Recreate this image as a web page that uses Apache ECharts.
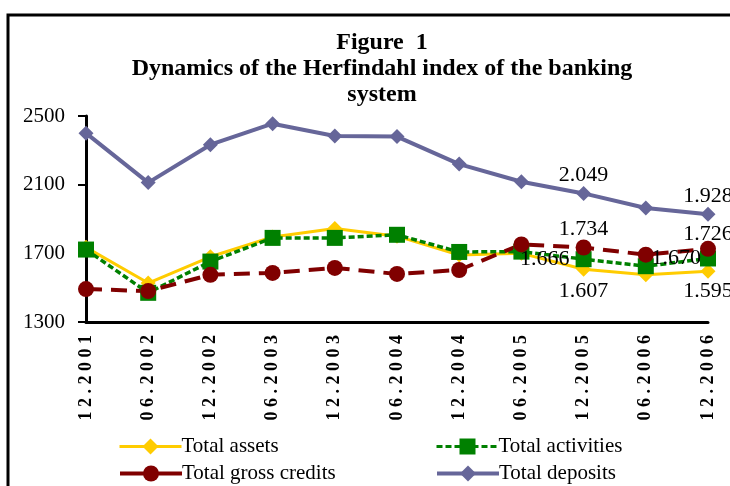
<!DOCTYPE html>
<html lang="en">
<head>
<meta charset="UTF-8">
<script src="https://cdn.jsdelivr.net/npm/echarts@6/dist/echarts.min.js"></script>
<style>
  html, body { margin: 0; padding: 0; background: #fff; }
  #chart { width: 730px; height: 486px; }
</style>
</head>
<body>
<div id="chart"></div>
<script>
// data
const periods = ['12.2001', '06.2002', '12.2002', '06.2003', '12.2003', '06.2004',
                 '12.2004', '06.2005', '12.2005', '06.2006', '12.2006'];
const totalAssets     = [1735, 1527, 1680, 1795, 1845, 1800, 1690, 1700, 1607, 1575, 1595];
const totalActivities = [1722, 1470, 1652, 1790, 1790, 1808, 1708, 1710, 1666, 1625, 1670];
const grossCredits    = [1492, 1480, 1575, 1586, 1615, 1580, 1603, 1752, 1734, 1692, 1726];
const totalDeposits   = [2400, 2112, 2333, 2455, 2384, 2380, 2220, 2117, 2049, 1964, 1928];
const labelledPoints  = ['12.2005', '12.2006'];
const yTicks = { min: 1300, max: 2500, step: 400 };

const serif = '"Liberation Serif", "DejaVu Serif", serif';
const fmt = v => (v / 1000).toFixed(3);

// value labels only on the December 2005 / 2006 points
function withLabels(values, pos, dists) {
  return values.map((v, i) => {
    const k = labelledPoints.indexOf(periods[i]);
    if (k < 0) return v;
    return { value: v, label: { show: true, position: pos, distance: dists[k] } };
  });
}
const valueLabel = { formatter: p => fmt(p.value), fontFamily: serif, fontSize: 22, color: '#000' };

const legendText = { fontFamily: serif, fontSize: 21, color: '#000', padding: [0, 0, 0, -5] };
function oneLegend(name, left, top, lw, lt) {
  return {
    data: [name], left: left, top: top, itemWidth: 62, itemHeight: 20,
    lineStyle: { width: lw, type: lt || 'inherit' }, textStyle: legendText
  };
}

const chart = echarts.init(document.getElementById('chart'));
chart.setOption({
  animation: false,
  title: {
    text: 'Figure  1\nDynamics of the Herfindahl index of the banking\nsystem',
    left: 377, textAlign: 'center', top: 25,
    textStyle: { fontFamily: serif, fontWeight: 'bold', fontSize: 24, lineHeight: 26, color: '#000' }
  },
  graphic: [{
    type: 'polyline',
    shape: { points: [[8, 490], [8, 15], [740, 15]] },
    style: { stroke: '#000', lineWidth: 3, fill: null }
  }],
  grid: { left: 86, top: 116, right: 22, bottom: 164 },
  legend: [
    oneLegend('Total assets', 113, 431, 3),
    oneLegend('Total gross credits', 113, 458, 4, 'solid'),
    oneLegend('Total activities', 430, 431, 3),
    oneLegend('Total deposits', 430, 458, 4)
  ],
  xAxis: {
    type: 'category', data: periods, boundaryGap: false,
    axisLine: { lineStyle: { color: '#000', width: 3 } },
    axisTick: { show: false },
    axisLabel: {
      rotate: 90, margin: 13, interval: 0,
      fontFamily: serif, fontWeight: 'bold', fontSize: 18, color: '#000',
      formatter: v => v.split('').join(' ')
    }
  },
  yAxis: {
    type: 'value', min: yTicks.min, max: yTicks.max, interval: yTicks.step,
    axisLine: { show: true, lineStyle: { color: '#000', width: 3 } },
    axisTick: { show: true, length: 8, lineStyle: { color: '#000', width: 2 } },
    splitLine: { show: false },
    axisLabel: { fontFamily: serif, fontSize: 21, color: '#000', margin: 21, formatter: v => String(v) }
  },
  series: [{
    name: 'Total assets', type: 'line',
    data: withLabels(totalAssets, 'bottom', [3, 1]),
    symbol: 'diamond', symbolSize: 15,
    lineStyle: { color: '#FFCC00', width: 3 },
    itemStyle: { color: '#FFCC00' },
    label: valueLabel
  }, {
    name: 'Total activities', type: 'line',
    data: withLabels(totalActivities, 'left', [6, -1]),
    symbol: 'rect', symbolSize: 16,
    lineStyle: { color: '#008000', width: 3.5, type: [6, 3] },
    itemStyle: { color: '#008000' },
    label: valueLabel
  }, {
    name: 'Total gross credits', type: 'line',
    data: withLabels(grossCredits, 'top', [-1, -4]),
    symbol: 'circle', symbolSize: 16,
    lineStyle: { color: '#800000', width: 4, type: [16, 9] },
    itemStyle: { color: '#800000' },
    label: valueLabel
  }, {
    name: 'Total deposits', type: 'line',
    data: withLabels(totalDeposits, 'top', [0, -1]),
    symbol: 'diamond', symbolSize: 15,
    lineStyle: { color: '#666699', width: 4 },
    itemStyle: { color: '#666699' },
    label: valueLabel
  }]
});
</script>
</body>
</html>
